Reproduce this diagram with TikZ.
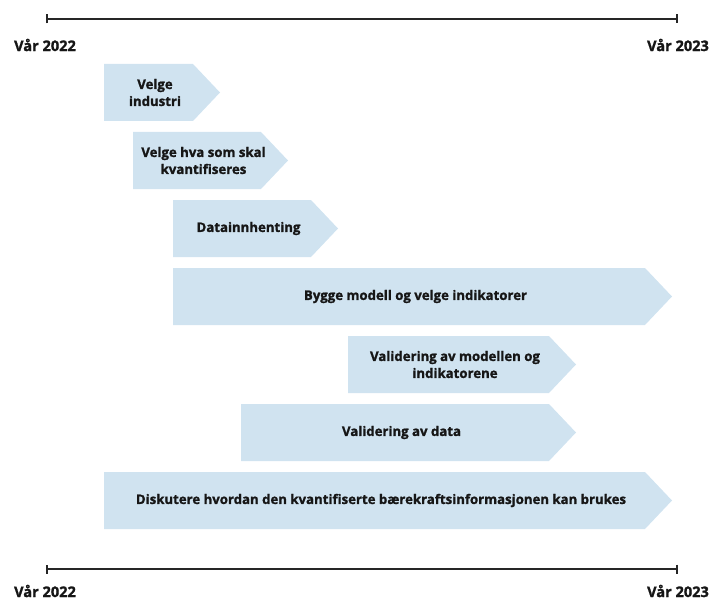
\documentclass[tikz,border=0pt]{standalone}
\usepackage{fontspec}
\setmainfont{Open Sans}[BoldFeatures={FakeBold=1.3}]
\usetikzlibrary{arrows.meta}
\definecolor{phaseblue}{RGB}{208,227,240}
\definecolor{darktext}{RGB}{22,22,22}

\def\tip{27}

\begin{document}
\begin{tikzpicture}[x=1pt,y=-1pt,font=\bfseries]
        \tikzstyle{phase}=[fill=phaseblue]
        \tikzstyle{annot}=[align=center, text=darktext, font=\fontsize{13.2}{17}\selectfont\bfseries]
        \tikzstyle{year}=[text=darktext, inner sep=1pt, font=\fontsize{14.6}{17}\selectfont\bfseries]
        \tikzstyle{timeline}=[line width=2.2pt, draw=black!85, {Bar[width=9pt]}-{Bar[width=9pt]}]

        \useasboundingbox (0,0) rectangle (713,602);

        % Time axis on top and at the bottom
        \coordinate (TA-start) at (46,19);
        \coordinate (TA-end) at (678,19);
        \coordinate (BA-start) at (46,569);
        \coordinate (BA-end) at (678,569);
        \draw[timeline] (TA-start) -- (TA-end);
        \draw[timeline] (BA-start) -- (BA-end);

        \node[year] (T-2022) at (45,45) {Vår 2022};
        \node[year] (T-2023) at (678,45) {Vår 2023};
        \node[year] (B-2022) at (45,591) {Vår 2022};
        \node[year] (B-2023) at (678,591) {Vår 2023};

        % Draw the phases
        \foreach \i/\xa/\xb/\txt in {1/104/220/{Velge\\industri},
                2/133/288/{Velge hva som skal\\kvantifiseres},
                3/173/338/{Datainnhenting},
                4/173/672/{Bygge modell og velge indikatorer},
                5/348/576/{Validering av modellen og\\indikatorene},
                6/241/576/{Validering av data},
                7/104/672/{Diskutere hvordan den kvantifiserte bærekraftsinformasjonen kan brukes}}
        {
            \pgfmathsetmacro{\ya}{64+68*(\i-1)}
            \pgfmathsetmacro{\yb}{\ya+57}
            \pgfmathsetmacro{\ym}{\ya+28.5}
            \fill[phase] (\xa,\ya) -- (\xb-\tip,\ya) -- (\xb,\ym) -- (\xb-\tip,\yb) -- (\xa,\yb) -- cycle;
            \node[annot] (P-\i) at ({(\xa+\xb)/2-7},\ym) {\txt};
        }
    \end{tikzpicture}
\end{document}
